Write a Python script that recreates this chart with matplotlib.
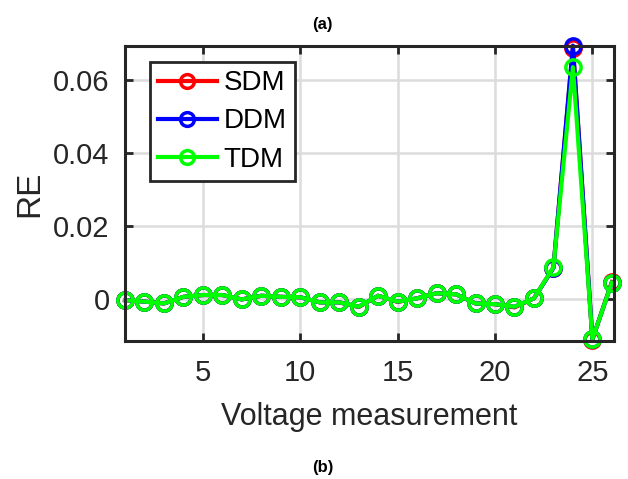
import matplotlib.pyplot as plt
import numpy as np

plt.rcParams['font.family'] = ['Liberation Sans', 'DejaVu Sans']

# voltage measurement index
meas = np.arange(1, 27)

# relative error of each diode model
re_sdm = [-0.0003, -0.0007, -0.0012, 0.0006, 0.0011, 0.0011, -0.0001, 0.0009, 0.0006, 0.0005,
          -0.0009, -0.0009, -0.0022, 0.0009, -0.0008, 0.0002, 0.0016, 0.0013, -0.0012, -0.0014,
          -0.0023, 0.0002, 0.0086, 0.0687, -0.0111, 0.0047]
re_ddm = [-0.0003, -0.0007, -0.0012, 0.0006, 0.0011, 0.0011, -0.0001, 0.0009, 0.0006, 0.0005,
          -0.0009, -0.0009, -0.0021, 0.0009, -0.0007, 0.0002, 0.0016, 0.0013, -0.0012, -0.0014,
          -0.0021, 0.0002, 0.0085, 0.0694, -0.0110, 0.0045]
re_tdm = [-0.0003, -0.0007, -0.0012, 0.0006, 0.0011, 0.0011, -0.0001, 0.0009, 0.0006, 0.0005,
          -0.0009, -0.0009, -0.0021, 0.0009, -0.0007, 0.0002, 0.0016, 0.0013, -0.0012, -0.0014,
          -0.0021, 0.0002, 0.0087, 0.0635, -0.0110, 0.0045]

fig = plt.figure(figsize=(6.28, 4.79), dpi=100)
ax = fig.add_axes([0.199, 0.288, 0.779, 0.616])

style = dict(lw=3, marker='o', ms=11, mfc='none', mew=2.5, clip_on=False)
ax.plot(meas, re_sdm, color='#ff0000', label='SDM', **style)
ax.plot(meas, re_ddm, color='#0000ff', label='DDM', **style)
ax.plot(meas, re_tdm, color='#00ff00', label='TDM', **style)

ax.set_xlim(1, 26.12)
ax.set_ylim(-0.0115, 0.0693)
ax.set_xticks([5, 10, 15, 20, 25])
ax.set_yticks([0, 0.02, 0.04, 0.06])
ax.set_yticklabels(['0', '0.02', '0.04', '0.06'])
ax.tick_params(direction='in', length=6, width=2, labelsize=21, colors='#262626',
               top=True, right=True)
ax.tick_params(axis='x', pad=13)
ax.tick_params(axis='y', pad=11)
ax.grid(True, color='#dcdcdc', lw=1.8)
ax.set_axisbelow(True)
for s in ax.spines.values():
    s.set_linewidth(2.2)
    s.set_color('#262626')

ax.set_xlabel('Voltage measurement', fontsize=22, color='#262626', labelpad=11)
ax.set_ylabel('RE', fontsize=24, color='#262626', labelpad=6)

leg = ax.legend(loc='upper left', bbox_to_anchor=(0.051, 0.946), fontsize=20,
                handlelength=2.1, handletextpad=0.25, labelspacing=0.44,
                borderpad=0.3, borderaxespad=0, fancybox=False, framealpha=1,
                markerscale=0.9)
leg.get_frame().set_edgecolor('#262626')
leg.get_frame().set_linewidth(2)

fig.text(0.514, 0.948, '(a)', ha='center', va='center', fontsize=12, fontweight='bold')
fig.text(0.514, 0.023, '(b)', ha='center', va='center', fontsize=12, fontweight='bold')

fig.savefig('out.png', dpi=100)
